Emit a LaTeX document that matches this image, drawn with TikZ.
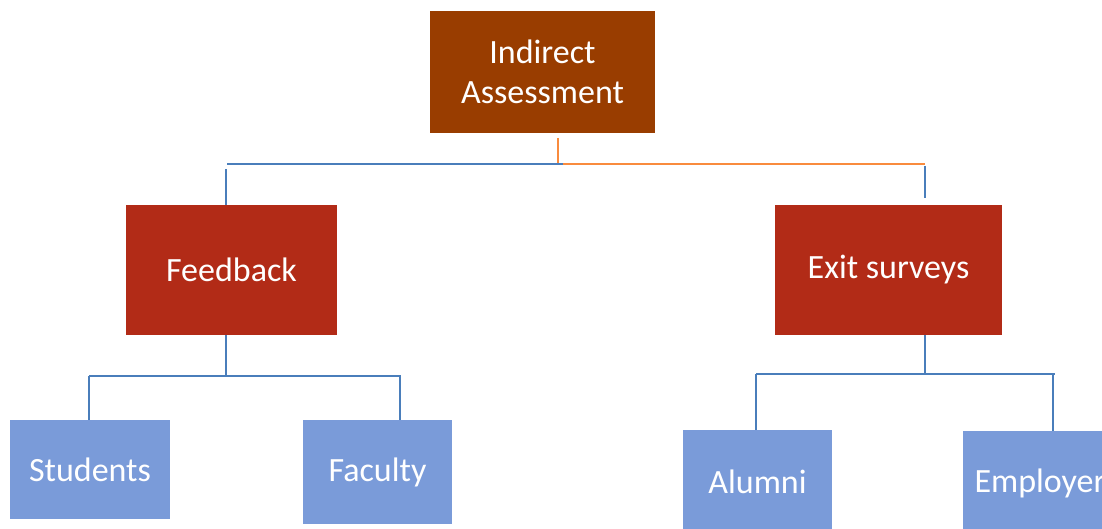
\documentclass[tikz,border=0pt]{standalone}
\usepackage{fontspec}
\setmainfont{Carlito}
\definecolor{topbrown}{HTML}{993D00}
\definecolor{midred}{HTML}{B22B17}
\definecolor{leafblue}{HTML}{7A9BD9}
\definecolor{lineblue}{HTML}{4A7EBB}
\definecolor{lineorange}{HTML}{F98B3D}
\tikzset{
  box/.style={rectangle, inner sep=0pt, text=white, align=center,
    font=\fontsize{34}{40}\selectfont},
  topbox/.style={box, fill=topbrown, minimum width=225pt, minimum height=122pt},
  midbox/.style={box, fill=midred, minimum height=130pt},
  leafbox/.style={box, fill=leafblue},
  bl/.style={draw=lineblue, line width=2pt},
  ol/.style={draw=lineorange, line width=2pt},
}
\begin{document}
\begin{tikzpicture}[x=1pt,y=-1pt]
\useasboundingbox (0,0) rectangle (1102,529);
\clip (0,0) rectangle (1102,529);
\node[topbox] (ind) at (542.5,72) {Indirect\\Assessment};
\node[midbox, minimum width=211pt] (fb) at (231.5,270) {Feedback};
\node[midbox, minimum width=227pt] (ex) at (888.5,270) {Exit surveys};
\node[leafbox, minimum width=160pt, minimum height=99pt] (st) at (90,469.5) {Students};
\node[leafbox, minimum width=149pt, minimum height=104pt] (fa) at (377.5,472) {Faculty};
\node[leafbox, minimum width=149pt, minimum height=104pt] (al) at (757.5,482) {Alumni};
\node[leafbox, minimum width=154pt, minimum height=104pt] (em) at (1040,483) {Employer};
% top level connectors
\coordinate (t0) at (558,138);
\coordinate (t1) at (558,164);
\coordinate (tm) at (563,164.5);
\coordinate (tl) at (227,164.5);
\coordinate (tr) at (925,164.5);
\coordinate (fbtop) at (226,169);
\coordinate (extop) at (925,166);
\coordinate (exend) at (925,198);
\draw[ol] (t0) -- (t1);
\draw[bl] (tl) -- (tm);
\draw[ol] (tm) -- (tr);
\draw[bl] (fbtop) -- (fbtop |- fb.north);
\draw[bl] (extop) -- (exend);
% feedback branch
\coordinate (fbj) at (226,376);
\coordinate (fbl) at (89,376);
\coordinate (fbr) at (401,376);
\draw[bl] (fbj |- fb.south) -- (fbj);
\draw[bl] (fbl) -- (fbr);
\draw[bl] (fbl) -- (fbl |- st.north);
\draw[bl] (400,376) -- (400,420);
% exit branch
\coordinate (exj) at (925,374);
\coordinate (exl) at (756,374);
\coordinate (exr) at (1055,374);
\draw[bl] (exj |- ex.south) -- (exj);
\draw[bl] (exl) -- (exr);
\draw[bl] (exl) -- (exl |- al.north);
\draw[bl] (1053,374) -- (1053,431);
\end{tikzpicture}
\end{document}
